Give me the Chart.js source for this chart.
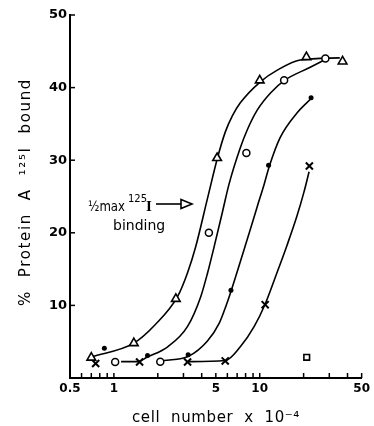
<!DOCTYPE html>
<html><head><meta charset="utf-8">
<script src="https://cdn.jsdelivr.net/npm/chart.js@4/dist/chart.umd.min.js"></script>
<style>html,body{margin:0;padding:0;background:#fff}#wrap{width:374px;height:426px;position:relative}canvas{display:block}</style>
</head><body><div id="wrap"><canvas id="c" width="374" height="426"></canvas></div>
<script>
// Axis ticks
const xTickValues = [0.5,0.6,0.7,0.8,0.9,1,2,3,4,5,6,7,8,9,10,20,30,40,50];
const xLabeledTicks = [0.5,1,5,10,50];
const yTickValues = [0,10,20,30,40,50];

// Measured points (cell number x 10^-4, % bound)
const triangleX = [0.70, 1.37, 2.66, 5.1, 10.0, 20.9, 37.0];
const triangleY = [2.8, 4.8, 10.9, 30.3, 41.0, 44.2, 43.6];
const circleX = [1.02, 2.08, 4.48, 8.1, 14.7, 28.2];
const circleY = [2.2, 2.25, 20.0, 31.0, 41.0, 44.0];
const dotX = [0.86, 1.70, 3.23, 6.35, 11.5, 22.5];
const dotY = [4.1, 3.1, 3.2, 12.1, 29.3, 38.6];
const crossX = [0.75, 1.50, 3.2, 5.8, 10.9, 21.9];
const crossY = [2.0, 2.2, 2.2, 2.35, 10.1, 29.2];
const squareX = [21.0];
const squareY = [2.85];

// Fitted curves
const curve1X = [0.70, 1.37, 1.91, 2.73, 3.20, 3.63, 4.38, 5.13, 5.81, 6.49, 7.36, 10.1, 13.2, 18.9, 35.4];
const curve1Y = [2.9, 4.8, 7.3, 11.2, 14.5, 18.0, 24.7, 30.3, 33.9, 36.1, 37.9, 40.8, 42.4, 43.8, 44.1];
const curve2X = [1.12, 1.46, 1.68, 2.34, 3.2, 3.94, 4.38, 4.87, 5.54, 6.16, 7.36, 8.22, 9.61, 11.9, 14.8, 22.2, 28.3];
const curve2Y = [2.25, 2.25, 2.85, 4.3, 7.1, 11.2, 14.4, 18.1, 22.8, 26.7, 31.7, 34.2, 36.9, 39.3, 41.0, 42.8, 43.9];
const curve3X = [2.19, 3.25, 4.38, 5.29, 5.91, 6.39, 7.36, 8.48, 9.61, 10.73, 11.61, 13.8, 18.0, 22.8];
const curve3Y = [2.4, 3.0, 5.1, 7.6, 10.1, 12.1, 16.0, 20.0, 23.6, 26.7, 29.1, 33.1, 36.5, 38.6];
const curve4X = [3.2, 5.81, 7.36, 9.17, 10.9, 12.96, 15.4, 18.0, 20.1, 21.8];
const curve4Y = [2.25, 2.4, 4.3, 7.1, 10.2, 14.2, 18.3, 22.3, 25.6, 28.4];

const pts = (xs, ys) => xs.map((x, i) => ({x, y: ys[i]}));
const FONT = "'DejaVu Sans', sans-serif";

function marker(data, style, r, fill, bw) {
  return {data, showLine:false, pointStyle:style, pointRadius:r, pointHoverRadius:r,
    pointBackgroundColor: fill, pointBorderColor:'#000', pointBorderWidth:bw, clip:false};
}
function curve(data) {
  return {data, showLine:true, pointRadius:0, borderColor:'#000', borderWidth:1.6,
    cubicInterpolationMode:'monotone', fill:false, clip:false};
}

function drawSpaced(ctx, text, x, y, width) {
  ctx.letterSpacing = '0px';
  const w0 = ctx.measureText(text).width;
  const n = [...text].length;
  const sp = (width - w0) / n;
  ctx.letterSpacing = sp + 'px';
  ctx.textAlign = 'left';
  ctx.fillText(text, x - width/2, y);
  ctx.letterSpacing = '0px';
}

const deco = {
  id:'deco',
  afterDraw(chart) {
    const ctx = chart.ctx, xs = chart.scales.x, ys = chart.scales.y;
    const ca = chart.chartArea;
    ctx.save();
    ctx.strokeStyle = '#000'; ctx.lineWidth = 1.5;
    // inward ticks
    xTickValues.forEach(v => {
      const p = xs.getPixelForValue(v);
      ctx.beginPath(); ctx.moveTo(p, ca.bottom); ctx.lineTo(p, ca.bottom - 5); ctx.stroke();
    });
    yTickValues.forEach(v => {
      if (v === 0) return;
      const p = ys.getPixelForValue(v);
      ctx.beginPath(); ctx.moveTo(ca.left, p); ctx.lineTo(ca.left + 5, p); ctx.stroke();
    });
    ctx.fillStyle = '#000';
    ctx.textBaseline = 'alphabetic';
    // x title
    ctx.font = '15px ' + FONT;
    drawSpaced(ctx, 'cell  number  x  10\u207B\u2074', 216, 422, 168);
    // y title
    ctx.save();
    ctx.translate(30, 192);
    ctx.rotate(-Math.PI/2);
    ctx.font = '15px ' + FONT;
    drawSpaced(ctx, '%  Protein  A  \u00B9\u00B2\u2075I  bound', 0, 0, 228);
    ctx.restore();
    // annotation
    ctx.textAlign = 'left';
    ctx.font = '14px ' + FONT;
    ctx.fillText('\u00BDmax', 88, 211, 37);
    ctx.font = '10px ' + FONT;
    ctx.fillText('125', 128, 202);
    ctx.font = 'bold 15px "Liberation Serif", serif';
    ctx.fillText('I', 146, 211);
    ctx.lineWidth = 1.6;
    ctx.beginPath(); ctx.moveTo(156, 204); ctx.lineTo(181, 204); ctx.stroke();
    ctx.beginPath(); ctx.moveTo(181, 199.5); ctx.lineTo(192, 204); ctx.lineTo(181, 208.5); ctx.closePath(); ctx.stroke();
    ctx.font = '14px ' + FONT;
    ctx.fillText('binding', 113, 230);
    ctx.restore();
  }
};

new Chart(document.getElementById('c'), {
  type:'scatter',
  data:{datasets:[
    marker(pts(triangleX, triangleY), 'triangle', 5, '#fff', 1.6),
    marker(pts(circleX, circleY), 'circle', 3.5, '#fff', 1.5),
    marker(pts(dotX, dotY), 'circle', 2.5, '#000', 0),
    marker(pts(crossX, crossY), 'crossRot', 5, '#000', 2),
    marker(pts(squareX, squareY), 'rect', 4, '#fff', 1.6),
    curve(pts(curve1X, curve1Y)),
    curve(pts(curve2X, curve2Y)),
    curve(pts(curve3X, curve3Y)),
    curve(pts(curve4X, curve4Y)),
  ]},
  options:{
    responsive:false, animation:false, devicePixelRatio:1,
    layout:{padding:{top:15, right:10, left:0, bottom:0}},
    plugins:{legend:{display:false}, tooltip:{enabled:false}},
    scales:{
      x:{type:'logarithmic', min:0.5, max:50, position:'bottom',
        afterBuildTicks:s => { s.ticks = xTickValues.map(v => ({value:v})); },
        afterFit:s => { s.height = 48; },
        ticks:{autoSkip:false, maxRotation:0, color:'#000', padding:4,
          font:{family:FONT, size:12, weight:'bold'},
          callback:(v) => xLabeledTicks.includes(v) ? String(v) : ''},
        grid:{display:true, drawOnChartArea:false, drawTicks:false},
        border:{display:true, color:'#000', width:2}},
      y:{type:'linear', min:0, max:50,
        afterBuildTicks:s => { s.ticks = yTickValues.map(v => ({value:v})); },
        afterFit:s => { s.width = 70; },
        ticks:{color:'#000', padding:3, font:{family:FONT, size:13, weight:'bold'},
          callback:(v) => v === 0 ? '' : String(v)},
        grid:{display:true, drawOnChartArea:false, drawTicks:false},
        border:{display:true, color:'#000', width:2}}
    }
  },
  plugins:[deco]
});
</script></body></html>
